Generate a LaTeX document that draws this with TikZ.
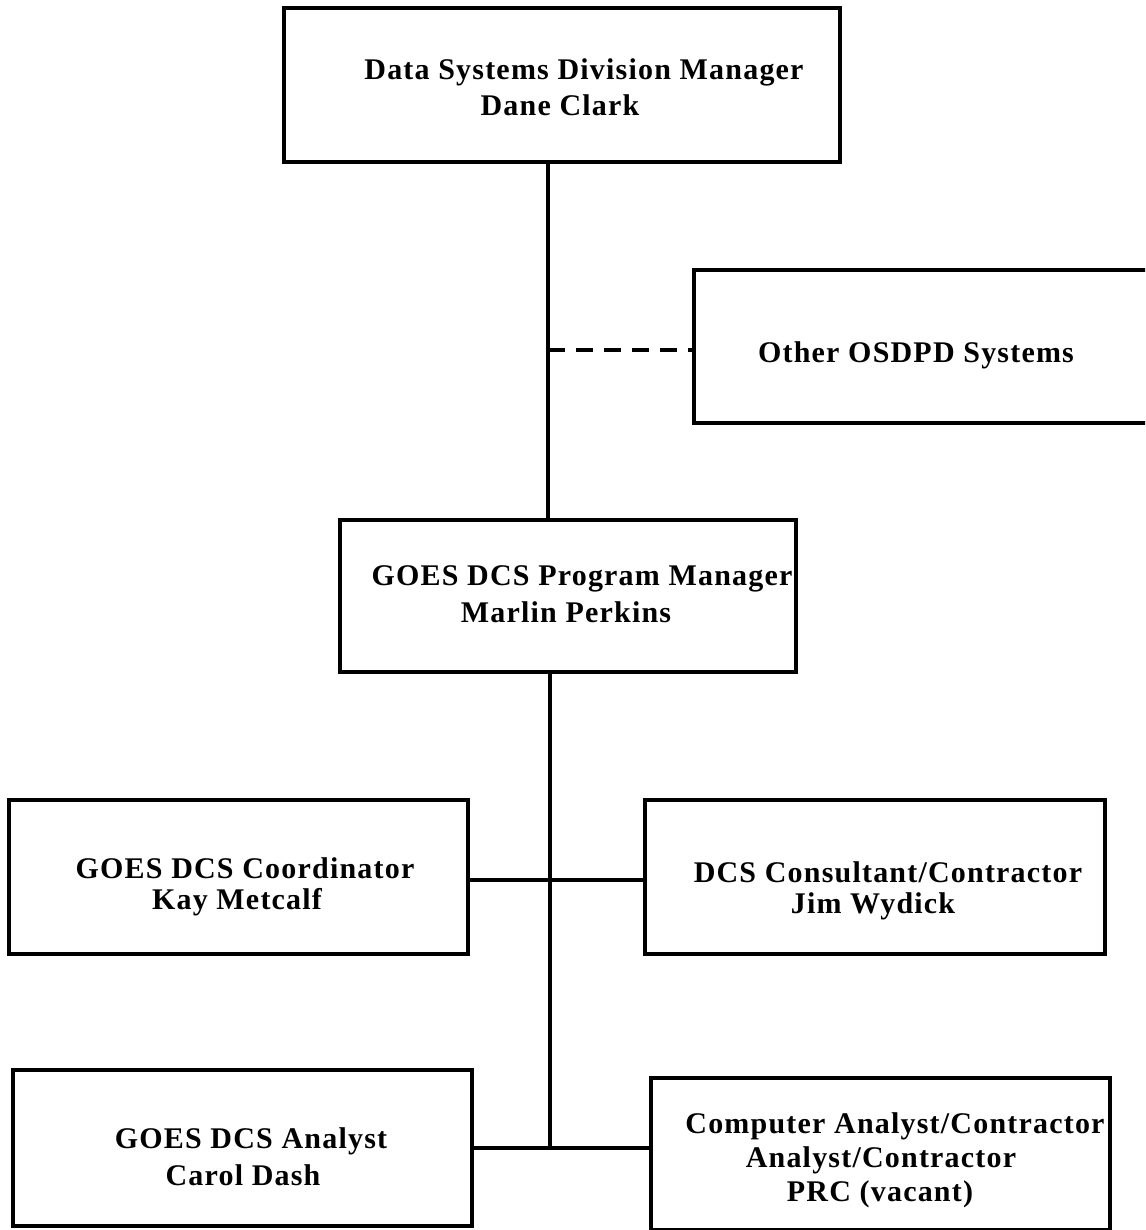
\documentclass[tikz,border=0pt]{standalone}
\usepackage{fontspec}
\setmainfont{Liberation Serif}[LetterSpace=4]
\begin{document}
\begin{tikzpicture}[x=1pt,y=-1pt,
  box/.style={draw,line width=4pt,rectangle,inner sep=0pt},
  lbl/.style={inner sep=0pt,font=\fontsize{30}{34}\selectfont\bfseries},
  conn/.style={line width=4pt}]
\useasboundingbox (0,0) rectangle (1145,1230);
\clip (0,0) rectangle (1145,1230);
% boxes
\node[box,minimum width=556pt,minimum height=154pt] (top) at (562,85) {};
\node[box,minimum width=480pt,minimum height=153pt] (other) at (934,346.5) {};
\node[box,minimum width=456pt,minimum height=152pt] (pm) at (568,596) {};
\node[box,minimum width=459pt,minimum height=154pt] (coord) at (238.5,877) {};
\node[box,minimum width=460pt,minimum height=154pt] (cons) at (875,877) {};
\node[box,minimum width=459pt,minimum height=156pt] (anl) at (242.5,1148) {};
\node[box,minimum width=459pt,minimum height=152pt] (comp) at (880.5,1154) {};
% texts
\node[lbl] (t1a) at (584,72) {Data Systems Division Manager};
\node[lbl] (t1b) at (560,105) {Dane Clark};
\node[lbl] (t2) at (916,355) {Other OSDPD Systems};
\node[lbl] (t3a) at (582,579) {GOES DCS Program Manager};
\node[lbl] (t3b) at (566,612) {Marlin Perkins};
\node[lbl] (t4a) at (245,868) {GOES DCS Coordinator};
\node[lbl] (t4b) at (237,902) {Kay Metcalf};
\node[lbl] (t5a) at (888,872) {DCS Consultant/Contractor};
\node[lbl] (t5b) at (873,906) {Jim Wydick};
\node[lbl] (t6a) at (251,1141) {GOES DCS Analyst};
\node[lbl] (t6b) at (243,1175) {Carol Dash};
\node[lbl] (t7a) at (895,1126) {Computer Analyst/Contractor};
\node[lbl] (t7b) at (881,1160) {Analyst/Contractor};
\node[lbl] (t7c) at (880,1194) {PRC (vacant)};
% connectors
\coordinate (s1) at (548,0);
\coordinate (s2) at (550,0);
\coordinate (d) at (0,350);
\coordinate (j1) at (550,880);
\coordinate (j2) at (550,1148);
\draw[conn] (top.south -| s1) -- (pm.north -| s1);
\draw[conn,dash pattern=on 17pt off 11pt] (s1 |- d) -- (other.west |- d);
\draw[conn] (pm.south -| s2) -- (j2);
\draw[conn] (coord.east |- j1) -- (cons.west |- j1);
\draw[conn] (anl.east |- j2) -- (comp.west |- j2);
\end{tikzpicture}
\end{document}
